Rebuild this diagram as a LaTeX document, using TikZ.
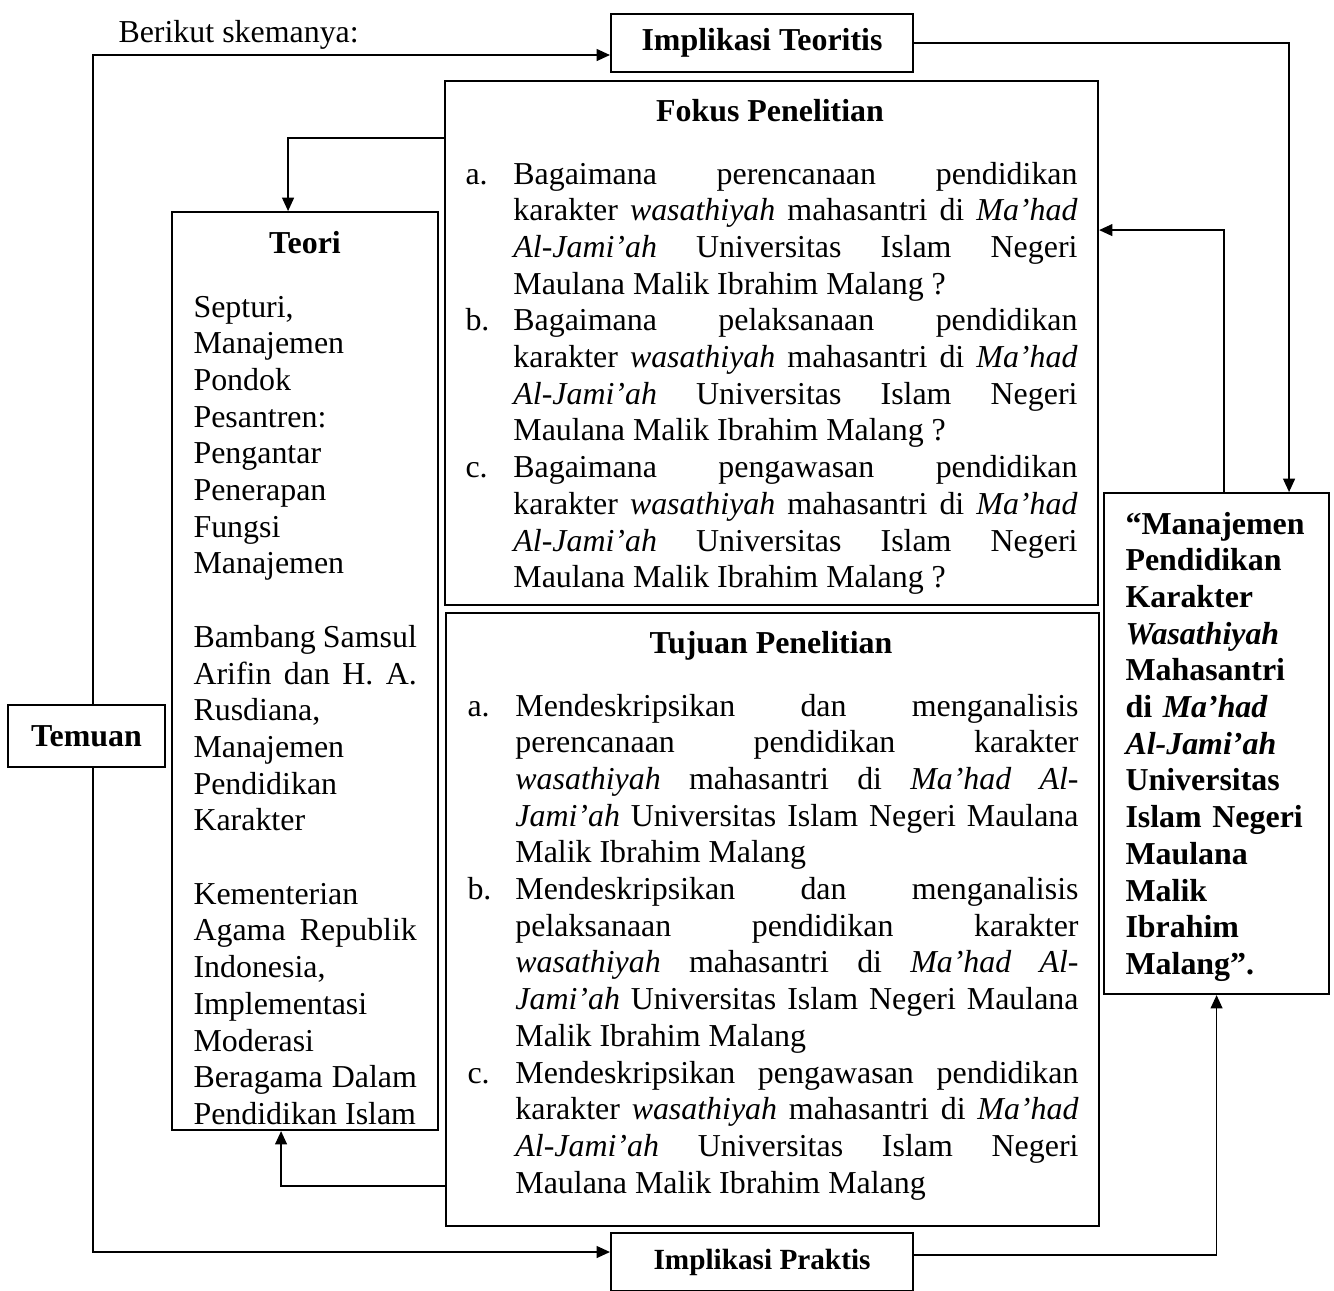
\documentclass[tikz,border=0pt]{standalone}
\usepackage{fontspec}
\setmainfont{Liberation Serif}
\usetikzlibrary{arrows.meta,calc}

\newcommand{\px}{0.376pt}
\newcommand{\huruf}{\fontsize{12}{13.8}\selectfont}
\newcommand{\butir}[2]{\noindent\hangindent=18pt\hangafter=1\makebox[18pt][l]{#1}#2\par}
\hyphenpenalty=10000
\exhyphenpenalty=10000

\begin{document}
\begin{tikzpicture}[
  x=0.376pt, y=-0.376pt,
  kotak/.style={rectangle, draw, line width=0.8pt, inner sep=0pt},
  bingkai/.style={kotak, anchor=north west},
  kotakjudul/.style={kotak, font=\huruf\bfseries, align=center},
  judul/.style={anchor=base, inner sep=0pt, font=\huruf\bfseries},
  isi/.style={anchor=base west, inner sep=0pt, font=\huruf, align=justify},
  panah/.style={line width=0.45pt, -{Triangle[length=5pt,width=4.5pt]}}
]
\useasboundingbox (0,0) rectangle (1334,1290);

% Pengantar
\node[anchor=base west, inner sep=0pt, font=\huruf] (pengantar) at (118,42) {Berikut skemanya:};

% Kotak implikasi dan temuan
\node[kotakjudul, minimum width=302*\px, minimum height=58*\px] (teoritis) at (762,43) {Implikasi Teoritis};
\node[kotakjudul, minimum width=302*\px, minimum height=58*\px, font=\fontsize{11}{12.65}\selectfont\bfseries] (praktis) at (762,1262) {Implikasi Praktis};
\node[kotakjudul, minimum width=157*\px, minimum height=62*\px] (temuan) at (86.5,736) {Temuan};

% Bingkai besar
\node[bingkai, minimum width=653*\px, minimum height=524*\px] (fokus) at (444,80) {};
\node[bingkai, minimum width=653*\px, minimum height=613*\px] (tujuan) at (445,612) {};
\node[bingkai, minimum width=266*\px, minimum height=918*\px] (teori) at (171,211) {};
\node[bingkai, minimum width=225*\px, minimum height=501*\px] (tema) at (1103,492) {};

% Judul bingkai
\node[judul] (fokusjudul) at (770,121) {Fokus Penelitian};
\node[judul] (tujuanjudul) at (771,653) {Tujuan Penelitian};
\node[judul] (teorijudul) at (305,253) {Teori};

% Fokus penelitian
\node[isi, text width=612*\px] (fokusisi) at (465,184) {%
\butir{a.}{Bagaimana perencanaan pendidikan\linebreak karakter \textit{wasathiyah} mahasantri di \textit{Ma’had}\linebreak \textit{Al-Jami’ah} Universitas Islam Negeri\linebreak Maulana Malik Ibrahim Malang~?}
\butir{b.}{Bagaimana pelaksanaan pendidikan\linebreak karakter \textit{wasathiyah} mahasantri di \textit{Ma’had}\linebreak \textit{Al-Jami’ah} Universitas Islam Negeri\linebreak Maulana Malik Ibrahim Malang~?}
\butir{c.}{Bagaimana pengawasan pendidikan\linebreak karakter \textit{wasathiyah} mahasantri di \textit{Ma’had}\linebreak \textit{Al-Jami’ah} Universitas Islam Negeri\linebreak Maulana Malik Ibrahim Malang~?}};

% Tujuan penelitian
\node[isi, text width=611*\px] (tujuanisi) at (467,716) {%
\butir{a.}{Mendeskripsikan dan menganalisis\linebreak perencanaan pendidikan karakter\linebreak \textit{wasathiyah} mahasantri di \textit{Ma’had Al-}\linebreak\textit{Jami’ah} Universitas Islam Negeri Maulana\linebreak Malik Ibrahim Malang}
\butir{b.}{Mendeskripsikan dan menganalisis\linebreak pelaksanaan pendidikan karakter\linebreak \textit{wasathiyah} mahasantri di \textit{Ma’had Al-}\linebreak\textit{Jami’ah} Universitas Islam Negeri Maulana\linebreak Malik Ibrahim Malang}
\butir{c.}{Mendeskripsikan pengawasan pendidikan\linebreak karakter \textit{wasathiyah} mahasantri di \textit{Ma’had}\linebreak \textit{Al-Jami’ah} Universitas Islam Negeri\linebreak Maulana Malik Ibrahim Malang}};

% Teori
\node[isi, text width=84pt] (teoriisi) at (193,317) {Septuri,\\ Manajemen\\ Pondok\\ Pesantren:\\ Pengantar\\ Penerapan\\ Fungsi\\ Manajemen\par\vspace{\baselineskip}
Bambang Samsul\linebreak Arifin dan H. A.\linebreak Rusdiana,\\ Manajemen\\ Pendidikan\\ Karakter\par\vspace{\baselineskip}
Kementerian\\ Agama Republik\linebreak Indonesia,\\ Implementasi\\ Moderasi\\ Beragama Dalam\linebreak Pendidikan Islam\par};

% Judul penelitian
\node[anchor=base west, inner sep=0pt, font=\huruf\bfseries, align=left, text width=74pt] (temaisi) at (1125,534) {“Manajemen\\ Pendidikan\\ Karakter\\ \textit{Wasathiyah}\\ Mahasantri\\ di \textit{Ma’had}\\ \textit{Al-Jami’ah}\\ Universitas\\ Islam Negeri\\ Maulana\\ Malik\\ Ibrahim\\ Malang”.};

% Alur
\draw[panah] ($(temuan.north)+(6.5,0)$) |- ($(teoritis.west)+(0,12)$);
\draw[panah] (teoritis.east) -| ($(tema.north)+(72.5,0)$);
\draw[panah] ($(tema.north)+(7.5,0)$) |- ($(fokus.east)+(0,-113)$);
\draw[panah] ($(fokus.west)+(0,-205)$) -| ($(teori.north)+(-17,0)$);
\draw[panah] ($(tujuan.west)+(0,266.5)$) -| ($(teori.south)+(-24,0)$);
\draw[panah] ($(temuan.south)+(6.5,0)$) |- ($(praktis.west)+(0,-10)$);
\draw[panah] ($(praktis.east)+(0,-7)$) -| (tema.south);

\end{tikzpicture}
\end{document}
